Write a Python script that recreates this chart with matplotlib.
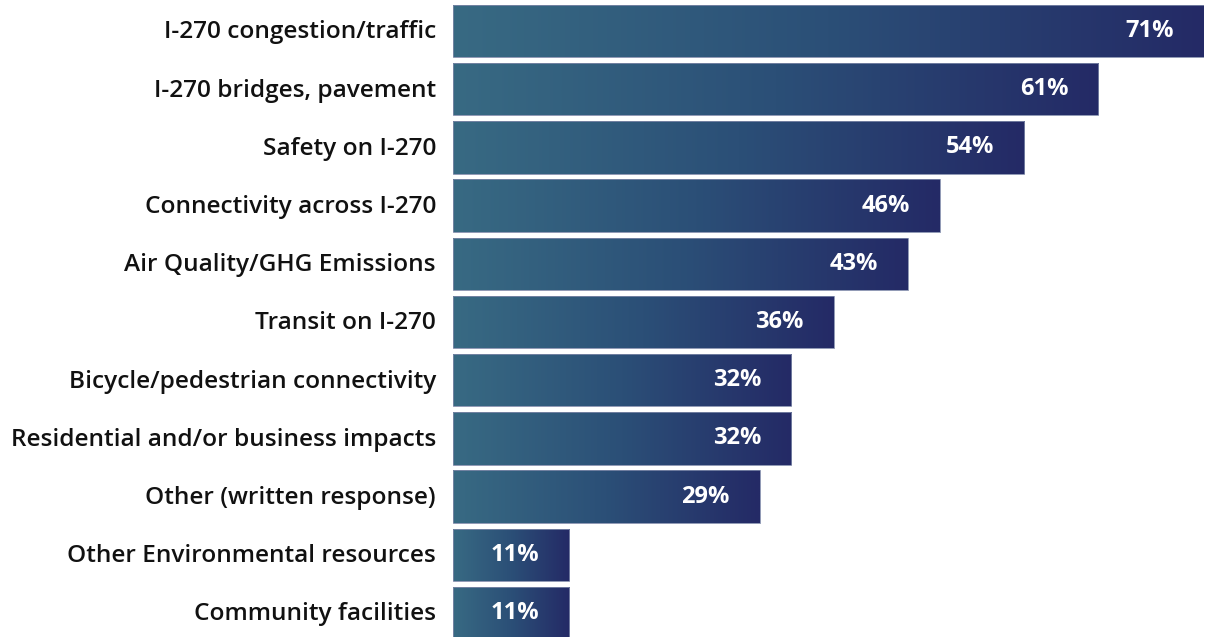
import matplotlib
matplotlib.use("Agg")
import matplotlib.pyplot as plt
import numpy as np
from matplotlib.colors import LinearSegmentedColormap

categories = [
    "I-270 congestion/traffic",
    "I-270 bridges, pavement",
    "Safety on I-270",
    "Connectivity across I-270",
    "Air Quality/GHG Emissions",
    "Transit on I-270",
    "Bicycle/pedestrian connectivity",
    "Residential and/or business impacts",
    "Other (written response)",
    "Other Environmental resources",
    "Community facilities",
]
values = [71, 61, 54, 46, 43, 36, 32, 32, 29, 11, 11]
value_labels = ["71%", "61%", "54%", "46%", "43%", "36%", "32%", "32%", "29%", "11%", "11%"]

W, H = 1207, 637
fig = plt.figure(figsize=(W / 100, H / 100), dpi=100)
left_px, right_px = 453, 1204
ax = fig.add_axes([left_px / W, 0, (right_px - left_px) / W, 1])

cmap = LinearSegmentedColormap.from_list("g", ["#386a83", "#2b4f77", "#242a66"])
y = np.arange(len(categories))
bars = ax.barh(y, values, height=0.9, color="none", edgecolor="none")
grad = np.linspace(0, 1, 256).reshape(1, -1)
for b in bars:
    x0, y0 = b.get_x(), b.get_y()
    w, h = b.get_width(), b.get_height()
    im = ax.imshow(grad, cmap=cmap, aspect="auto",
                   extent=[x0, x0 + w, y0 + h, y0], zorder=2, interpolation="bilinear")
    im.set_clip_path(b)
    ax.add_patch(plt.Rectangle((x0, y0), w, h, fill=False, edgecolor="#7d88a8",
                               linewidth=0.6, zorder=3))

ax.set_xlim(0, 71)
pitch = 58.2
ax.set_ylim((H - 31) / pitch, -31 / pitch)
for s in ax.spines.values():
    s.set_visible(False)
ax.set_xticks([])
ax.set_yticks([])

px_per_unit = (right_px - left_px) / 71
for i, (v, lab) in enumerate(zip(values, value_labels)):
    ax.text(v - 30 / px_per_unit, i, lab, ha="right", va="center", color="white",
            fontsize=17, fontweight="bold", family="Open Sans", zorder=4)
    ax.text(-17 / px_per_unit, i + 1.5 / pitch, categories[i], ha="right", va="center",
            color="#111111", fontsize=17.6, family="Open Sans", fontweight="semibold",
            clip_on=False)

fig.savefig("out.png", dpi=100)
